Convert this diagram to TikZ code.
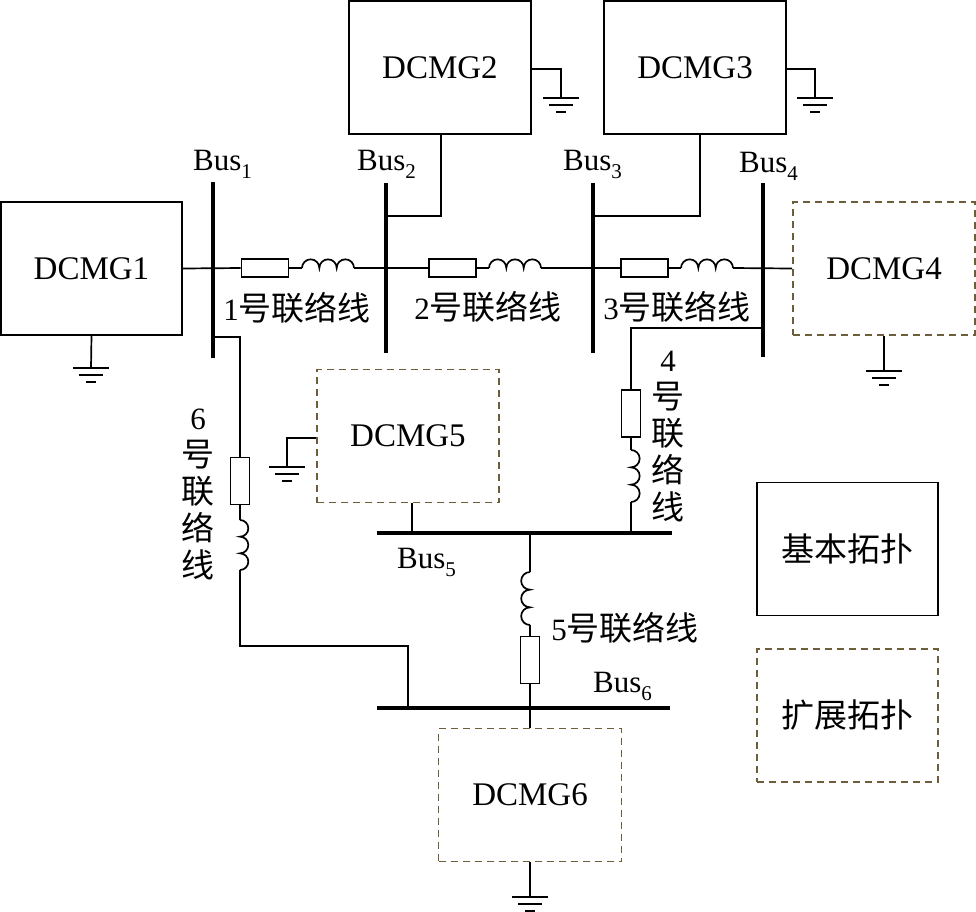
\documentclass[tikz,border=0pt]{standalone}
\usepackage{fontspec}
\setmainfont{Liberation Serif}
\newfontfamily\cjk{Noto Sans CJK SC}
\newcommand\zh{\cjk\fontsize{33}{37}\selectfont}
\newcommand\mysubscr[1]{\raisebox{-8pt}{\fontsize{21}{21}\selectfont #1}}
\definecolor{dashcol}{RGB}{108,94,58}
\begin{document}
\begin{tikzpicture}[x=1pt,y=1pt,
  wire/.style={line width=1.7pt},
  busbar/.style={line width=4.5pt},
  solidbox/.style={draw,line width=1.8pt,minimum width=182pt,minimum height=133pt,inner sep=0pt},
  dashbox/.style={draw=dashcol,line width=1.9pt,dash pattern=on 7pt off 5pt,minimum width=182pt,minimum height=133pt,inner sep=0pt},
  res/.style={draw,line width=1.7pt,minimum width=47pt,minimum height=18pt,inner sep=0pt},
  vres/.style={draw,line width=1.7pt,minimum width=19pt,minimum height=47pt,inner sep=0pt},
  lat/.style={font=\fontsize{31}{36}\selectfont},
  boxtext/.style={font=\fontsize{33}{38}\selectfont},
  cjkt/.style={font=\zh},
  buslab/.style={font=\fontsize{31}{36}\selectfont,anchor=base west,inner sep=0pt},
  gnd/.pic={\draw[line width=1.7pt] (-18,0)--(18,0) (-12,-7)--(12,-7) (-5,-14)--(5,-14);}
]
\useasboundingbox (0,0) rectangle (976,-911);

% boxes
\node[solidbox,boxtext,minimum width=181pt] (d1) at (91.5,-268.5) {DCMG1};
\node[solidbox,boxtext] (d2) at (440,-67.5) {DCMG2};
\node[solidbox,boxtext] (d3) at (695,-67.5) {DCMG3};
\node[dashbox,boxtext] (d4) at (884,-268.5) {DCMG4};
\node[dashbox,boxtext] (d5) at (408,-436) {DCMG5};
\node[dashbox,boxtext,minimum width=183pt] (d6) at (530,-795) {DCMG6};
\node[solidbox,cjkt,minimum width=181pt] (leg1) at (847.5,-549) {基本拓扑};
\node[dashbox,cjkt,minimum width=181pt] (leg2) at (847.5,-715.5) {扩展拓扑};

% buses
\coordinate (b1t) at (213,-182); \coordinate (b1b) at (213,-358);
\coordinate (b2t) at (386,-183); \coordinate (b2b) at (386,-353);
\coordinate (b3t) at (593,-183); \coordinate (b3b) at (593,-353);
\coordinate (b4t) at (763,-183); \coordinate (b4b) at (763,-357);
\coordinate (b5l) at (377,-533); \coordinate (b5r) at (672,-533);
\coordinate (b6l) at (377,-708); \coordinate (b6r) at (670,-708);
\draw[busbar] (b1t) -- (b1b);
\draw[busbar] (b2t) -- (b2b);
\draw[busbar] (b3t) -- (b3b);
\draw[busbar] (b4t) -- (b4b);
\draw[busbar] (b5l) -- (b5r);
\draw[busbar] (b6l) -- (b6r);

% bus labels
\node[buslab] (lb1) at (193,-170) {Bus\mysubscr{1}};
\node[buslab] (lb2) at (357,-170) {Bus\mysubscr{2}};
\node[buslab] (lb3) at (563,-170) {Bus\mysubscr{3}};
\node[buslab] (lb4) at (739,-172) {Bus\mysubscr{4}};
\node[buslab] (lb5) at (397,-568) {Bus\mysubscr{5}};
\node[buslab] (lb6) at (593,-692) {Bus\mysubscr{6}};

% resistors
\node[res] (r1) at (265,-268) {};
\node[res] (r2) at (452.5,-268) {};
\node[res] (r3) at (644.5,-268) {};
\node[vres] (r4) at (631,-413.5) {};
\node[vres] (r5) at (530,-660) {};
\node[vres] (r6) at (240,-481) {};

% inductor end points
\coordinate (l1a) at (302,-268); \coordinate (l1b) at (354,-268);
\coordinate (l2a) at (489,-268); \coordinate (l2b) at (541,-268);
\coordinate (l3a) at (681,-268); \coordinate (l3b) at (733,-268);
\coordinate (l4a) at (631,-450); \coordinate (l4b) at (631,-502);
\coordinate (l5a) at (530,-572); \coordinate (l5b) at (530,-625);
\coordinate (l6a) at (240,-520); \coordinate (l6b) at (240,-570);

% main horizontal line
\draw[wire] (d1.east) -- (r1.west);
\draw[wire] (r1.east) -- (l1a);
\draw[wire] (l1a) arc(180:0:8.67) arc(180:0:8.67) arc(180:0:8.67);
\draw[wire] (l1b) -- (r2.west);
\draw[wire] (r2.east) -- (l2a);
\draw[wire] (l2a) arc(180:0:8.67) arc(180:0:8.67) arc(180:0:8.67);
\draw[wire] (l2b) -- (r3.west);
\draw[wire] (r3.east) -- (l3a);
\draw[wire] (l3a) arc(180:0:8.67) arc(180:0:8.67) arc(180:0:8.67);
\draw[wire] (l3b) -- (d4.west);

% DCMG2 / DCMG3 to buses
\coordinate (j2) at (386,-216);
\coordinate (j3) at (593,-216);
\draw[wire] ([xshift=1pt]d2.south) |- (j2);
\draw[wire] ([xshift=5pt]d3.south) |- (j3);

% line 4
\coordinate (j4) at (763,-328);
\coordinate (j45) at (631,-533);
\draw[wire] (j4) -| (r4.north);
\draw[wire] (r4.south) -- (l4a);
\draw[wire] (l4a) arc(90:-90:8.67) arc(90:-90:8.67) arc(90:-90:8.67);
\draw[wire] (l4b) -- (j45);

% line 6
\coordinate (j1) at (213,-337);
\coordinate (k6) at (240,-646);
\coordinate (j61) at (408,-708);
\draw[wire] (j1) -| (r6.north);
\draw[wire] (r6.south) -- (l6a);
\draw[wire] (l6a) arc(90:-90:8.33) arc(90:-90:8.33) arc(90:-90:8.33);
\draw[wire] (l6b) -- (k6) -| (j61);

% DCMG5 to bus5
\coordinate (j5) at (412,-533);
\draw[wire] ([xshift=4pt]d5.south) -- (j5);

% line 5
\coordinate (j55) at (530,-533);
\draw[wire] (j55) -- (l5a);
\draw[wire] (l5a) arc(90:270:8.83) arc(90:270:8.83) arc(90:270:8.83);
\draw[wire] (l5b) -- (r5.north);
\draw[wire] (r5.south) -- (d6.north);

% grounds
\coordinate (g1) at (91,-368);
\coordinate (g2) at (561,-98);
\coordinate (g3) at (815,-98);
\coordinate (g4) at (884,-371);
\coordinate (g5) at (287,-467);
\coordinate (g6) at (530,-897);
\draw[wire] (d1.south) -- (g1);
\draw[wire] ([yshift=-1.5pt]d2.east) -| (g2);
\draw[wire] ([yshift=-1.5pt]d3.east) -| (g3);
\draw[wire] (d4.south) -- (g4);
\draw[wire] ([yshift=-2pt]d5.west) -| (g5);
\draw[wire] (d6.south) -- (g6);
\pic at (g1) {gnd};
\pic at (g2) {gnd};
\pic at (g3) {gnd};
\pic at (g4) {gnd};
\pic at (g5) {gnd};
\pic at (g6) {gnd};

% line labels
\node[lat,inner sep=0pt] (t1) at (297,-308) {1{\zh 号联络线}};
\node[lat,inner sep=0pt] (t2) at (488,-307) {2{\zh 号联络线}};
\node[lat,inner sep=0pt] (t3) at (677,-307) {3{\zh 号联络线}};
\node[lat,inner sep=0pt] (t5) at (625,-628) {5{\zh 号联络线}};
\node[cjkt,align=center,inner sep=0pt] (t4) at (668,-437) {{\rmfamily\fontsize{31}{37}\selectfont 4}\\号\\联\\络\\线};
\node[cjkt,align=center,inner sep=0pt] (t6) at (198,-494) {{\rmfamily\fontsize{31}{37}\selectfont 6}\\号\\联\\络\\线};
\end{tikzpicture}
\end{document}
